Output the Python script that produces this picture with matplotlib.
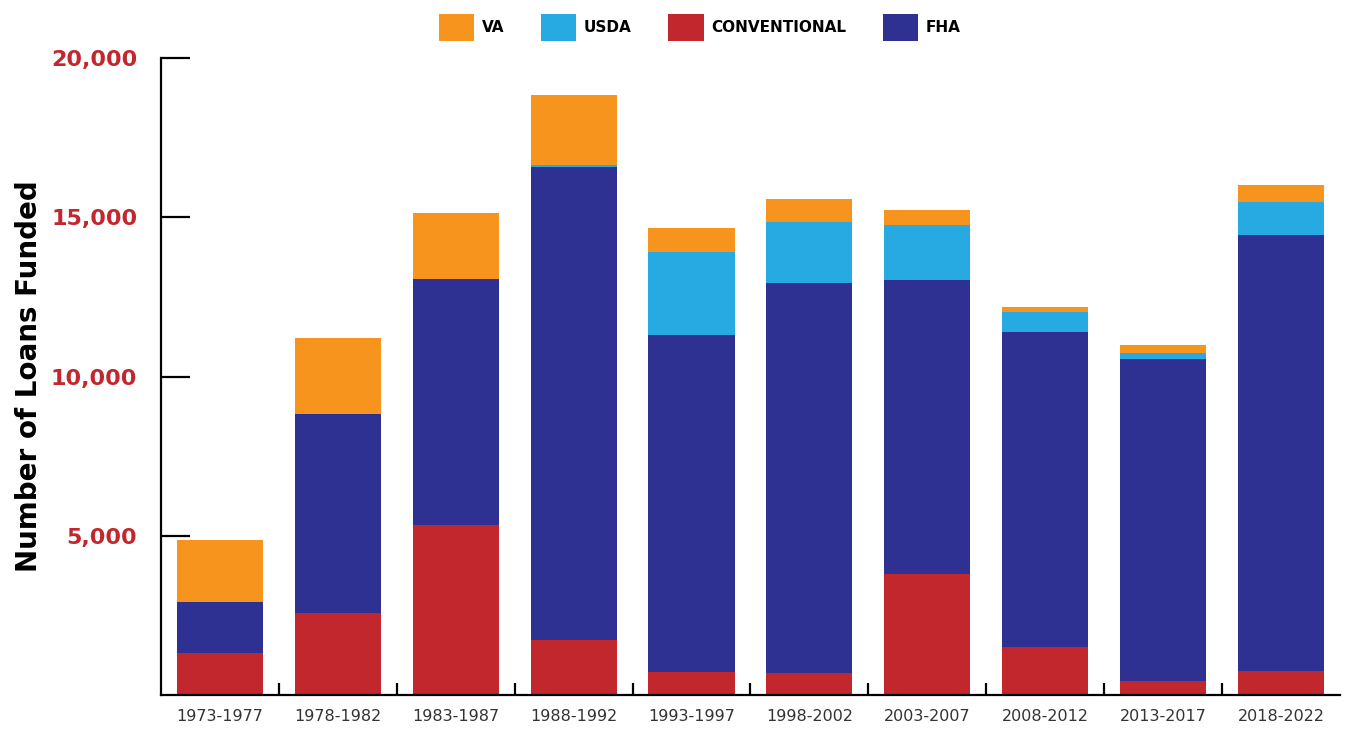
import numpy as np
import matplotlib.pyplot as plt
from matplotlib.ticker import FuncFormatter

# 数据
periods = ['1973-1977', '1978-1982', '1983-1987', '1988-1992', '1993-1997',
           '1998-2002', '2003-2007', '2008-2012', '2013-2017', '2018-2022']
conventional = [1320, 2575, 5340, 1730, 720, 700, 3800, 1510, 450, 740]
fha = [1600, 6245, 7720, 14850, 10580, 12240, 9230, 9890, 10100, 13700]
usda = [0, 0, 0, 60, 2610, 1910, 1730, 630, 190, 1040]
va = [1950, 2390, 2075, 2200, 750, 720, 470, 150, 250, 530]

# 颜色
C_VA = '#F7941D'
C_USDA = '#27AAE1'
C_CONV = '#C1272D'
C_FHA = '#2E3192'

plt.rcParams['font.family'] = ['DejaVu Sans']

fig = plt.figure(figsize=(13.46, 7.29), dpi=100)
ax = fig.add_axes([0.1196, 0.0466, 0.8759, 0.8738])

x = np.arange(len(periods))
w = 0.73
conv = np.array(conventional)
f = np.array(fha)
u = np.array(usda)
v = np.array(va)

ax.bar(x, conv, w, color=C_CONV, label='CONVENTIONAL')
ax.bar(x, f, w, bottom=conv, color=C_FHA, label='FHA')
ax.bar(x, u, w, bottom=conv + f, color=C_USDA, label='USDA')
ax.bar(x, v, w, bottom=conv + f + u, color=C_VA, label='VA')

ax.set_xlim(-0.5, 9.5)
ax.set_ylim(0, 20000)

# 坐标轴样式
for s in ['top', 'right']:
    ax.spines[s].set_visible(False)
ax.spines['left'].set_linewidth(1.6)
ax.spines['bottom'].set_linewidth(1.6)

ax.set_yticks([5000, 10000, 15000, 20000])
ax.yaxis.set_major_formatter(FuncFormatter(lambda val, p: f'{int(val):,}'))
ax.tick_params(axis='y', direction='in', length=21, width=1.6, pad=17,
               labelsize=16, labelcolor=C_CONV)
for lab in ax.get_yticklabels():
    lab.set_fontweight('bold')

ax.set_xticks(x)
ax.set_xticklabels(periods)
ax.set_xticks(x[:-1] + 0.5, minor=True)
ax.tick_params(axis='x', which='major', length=0, pad=10, labelsize=11.5,
               labelcolor='#333333')
ax.tick_params(axis='x', which='minor', direction='in', length=9, width=1.6)

ax.set_ylabel('Number of Loans Funded', fontsize=20, fontweight='bold',
              labelpad=6)

# 图例
handles, labels = ax.get_legend_handles_labels()
order = [3, 2, 0, 1]
fig.legend([handles[i] for i in order], [labels[i] for i in order],
           loc='center', bbox_to_anchor=(0.52, 0.962), ncol=4, frameon=False,
           handlelength=2.3, handleheight=2.4, handletextpad=0.5,
           columnspacing=2.4, prop={'weight': 'bold', 'size': 11})

fig.savefig('out.png', dpi=100)
